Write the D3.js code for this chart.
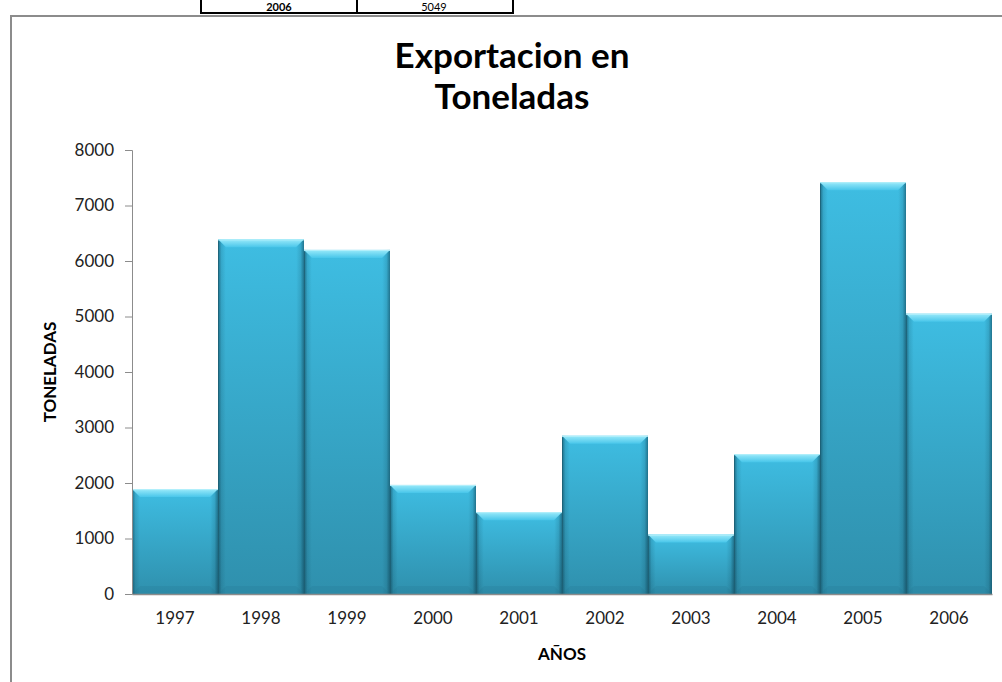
<!DOCTYPE html>
<html><head><meta charset="utf-8">
<script src="https://cdn.jsdelivr.net/npm/d3@7/dist/d3.min.js"></script>
<style>body{margin:0;background:#fff;}svg{display:block;}</style>
</head><body>
<svg id="c" width="1002" height="682"></svg>
<script>
const years = ["1997","1998","1999","2000","2001","2002","2003","2004","2005","2006"];
const values = [1890, 6390, 6200, 1965, 1475, 2850, 1070, 2520, 7420, 5049];
const yTicks = [0,1000,2000,3000,4000,5000,6000,7000,8000];
const titleLines = ["Exportacion en","Toneladas"];
const tableRow = ["2006","5049"];

const svg = d3.select("#c");
const font = "Lato, 'Open Sans', sans-serif";

// table remnant at top
svg.append("rect").attr("x",201).attr("y",-10).attr("width",312).attr("height",23)
  .attr("fill","none").attr("stroke","#000").attr("stroke-width",2);
svg.append("line").attr("x1",357).attr("x2",357).attr("y1",-10).attr("y2",13).attr("stroke","#000").attr("stroke-width",2);
svg.append("text").attr("x",279).attr("y",10.5).attr("text-anchor","middle").attr("font-family",font)
  .attr("font-weight","bold").attr("font-size",11).text(tableRow[0]);
svg.append("text").attr("x",434).attr("y",10.5).attr("text-anchor","middle").attr("font-family",font)
  .attr("font-size",11).text(tableRow[1]);

// chart border
svg.append("rect").attr("x",11).attr("y",16).attr("width",1100).attr("height",800)
  .attr("fill","#fff").attr("stroke","#8c8c8c").attr("stroke-width",2);

const x = d3.scaleBand().domain(years).range([132,992]).padding(0);
const y = d3.scaleLinear().domain([0,8000]).range([594,150]);

// title
svg.selectAll("text.title").data(titleLines).join("text").attr("class","title")
  .attr("x",512).attr("y",(d,i)=>68+i*41).attr("text-anchor","middle")
  .attr("font-family",font).attr("font-weight","bold").attr("font-size",35).attr("fill","#000").text(d=>d);

// defs
const defs = svg.append("defs");
const g1 = defs.append("linearGradient").attr("id","body").attr("x1",0).attr("x2",0).attr("y1",0).attr("y2",1);
g1.append("stop").attr("offset","0").attr("stop-color","#3ebde2");
g1.append("stop").attr("offset","1").attr("stop-color","#2f90ad");
const g2 = defs.append("linearGradient").attr("id","sides").attr("x1",0).attr("x2",1).attr("y1",0).attr("y2",0);
g2.append("stop").attr("offset","0").attr("stop-color","#0a3a4c").attr("stop-opacity",0.6);
g2.append("stop").attr("offset","0.04").attr("stop-color","#0a3a4c").attr("stop-opacity",0.15);
g2.append("stop").attr("offset","0.09").attr("stop-color","#0a3a4c").attr("stop-opacity",0);
g2.append("stop").attr("offset","0.91").attr("stop-color","#0a3a4c").attr("stop-opacity",0);
g2.append("stop").attr("offset","0.96").attr("stop-color","#0a3a4c").attr("stop-opacity",0.15);
g2.append("stop").attr("offset","1").attr("stop-color","#0a3a4c").attr("stop-opacity",0.55);
const g3 = defs.append("linearGradient").attr("id","bevel").attr("x1",0).attr("x2",0).attr("y1",0).attr("y2",1);
g3.append("stop").attr("offset","0").attr("stop-color","#9aeafa");
g3.append("stop").attr("offset","1").attr("stop-color","#48c6ea");

// bars
const bars = svg.append("g").selectAll("g").data(years.map((d,i)=>({year:d,value:values[i]}))).join("g");
const bev = 8;
bars.append("rect").attr("x",d=>x(d.year)).attr("y",d=>y(d.value)).attr("width",x.bandwidth())
  .attr("height",d=>y(0)-y(d.value)).attr("fill","url(#body)");
bars.append("rect").attr("x",d=>x(d.year)).attr("y",d=>y(d.value)).attr("width",x.bandwidth())
  .attr("height",d=>y(0)-y(d.value)).attr("fill","url(#sides)");
bars.append("path").attr("d",d=>{
  const x0=x(d.year), x1=x0+x.bandwidth(), t=y(d.value);
  return `M${x0},${t}L${x1},${t}L${x1-bev},${t+bev}L${x0+bev},${t+bev}Z`;
}).attr("fill","url(#bevel)");
bars.append("line").attr("x1",d=>x(d.year)).attr("x2",d=>x(d.year)+x.bandwidth())
  .attr("y1",d=>y(d.value)+0.5).attr("y2",d=>y(d.value)+0.5).attr("stroke","#b4f0fb").attr("stroke-width",1);
bars.append("path").attr("d",d=>{
  const x0=x(d.year), x1=x0+x.bandwidth(), b=y(0);
  return `M${x0},${b}L${x1},${b}L${x1-bev},${b-bev}L${x0+bev},${b-bev}Z`;
}).attr("fill","#1f6f88").attr("opacity",0.18);
bars.append("line").attr("x1",d=>x(d.year)+0.5).attr("x2",d=>x(d.year)+0.5)
  .attr("y1",d=>y(d.value)+2).attr("y2",y(0)).attr("stroke","#1d5f73").attr("stroke-width",1).attr("opacity",0.7);

// axes
const yAxis = svg.append("g").attr("transform","translate(132,0)")
  .call(d3.axisLeft(y).tickValues(yTicks).tickSize(7).tickPadding(11).tickFormat(d3.format("d")));
yAxis.select(".domain").attr("stroke","#8c8c8c");
yAxis.selectAll(".tick line").attr("stroke","#8c8c8c");
yAxis.selectAll("text").attr("font-family",font).attr("font-size",17).attr("fill","#222");

const xAxis = svg.append("g").attr("transform","translate(0,594)")
  .call(d3.axisBottom(x).tickSize(0).tickPadding(18));
xAxis.select(".domain").attr("stroke","#8c8c8c").attr("stroke-width",1.5);
xAxis.selectAll("text").attr("font-family",font).attr("font-size",17).attr("fill","#222");

// axis titles
svg.append("text").attr("transform","translate(56,372) rotate(-90)").attr("text-anchor","middle")
  .attr("font-family",font).attr("font-weight","bold").attr("font-size",17).text("TONELADAS");
svg.append("text").attr("x",562).attr("y",660).attr("text-anchor","middle")
  .attr("font-family",font).attr("font-weight","bold").attr("font-size",17).text("AÑOS");
</script>
</body></html>
